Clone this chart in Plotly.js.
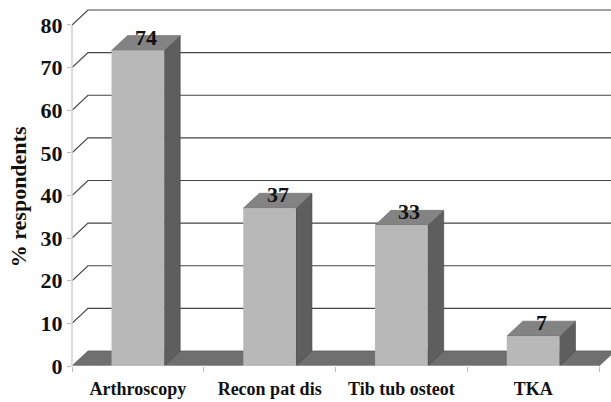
<!DOCTYPE html>
<html>
<head>
<meta charset="utf-8">
<script src="https://cdn.plot.ly/plotly-3.0.1.min.js"></script>
<style>html,body{margin:0;padding:0;background:#fff;}#chart{width:611px;height:402px;}</style>
</head>
<body>
<div id="chart"></div>
<script>
const categories = ['Arthroscopy', 'Recon pat dis', 'Tib tub osteot', 'TKA'];
const values = [74, 37, 33, 7];
const yTicks = [0, 10, 20, 30, 40, 50, 60, 70, 80];
const yTitle = '% respondents';

// 3-D depth offset, in axis units
const DX = 0.1214, DY = 3.52, BW = 0.4;
const XMIN = -0.5, XMAX = 3.591, YMAX = 84.69;
const xs = categories.map((c, i) => i);
const boundaries = [-0.5, 0.5, 1.5, 2.5, 3.5];

const shapes = [];
// back wall gridlines + diagonals
yTicks.forEach(v => {
  if (v === 0) return;
  shapes.push({type: 'path', xref: 'x', yref: 'y', layer: 'below',
    path: `M ${XMIN},${v} L ${XMIN + DX},${v + DY} L ${3.5 + DX},${v + DY}`,
    line: {color: '#444', width: 1.2}});
});
// floor
shapes.push({type: 'path', xref: 'x', yref: 'y', layer: 'below',
  path: `M ${XMIN},0 L 3.5,0 L ${3.5 + DX},${DY} L ${XMIN + DX},${DY} Z`,
  fillcolor: '#6f6f6f', line: {color: '#5a5a5a', width: 0.8}});
// bar side and top faces
xs.forEach((x, i) => {
  const v = values[i], l = x - BW / 2, r = x + BW / 2;
  shapes.push({type: 'path', xref: 'x', yref: 'y', layer: 'below',
    path: `M ${r},0 L ${r + DX},${DY} L ${r + DX},${v + DY} L ${r},${v} Z`,
    fillcolor: '#5e5e5e', line: {color: '#4a4a4a', width: 0.6}});
  shapes.push({type: 'path', xref: 'x', yref: 'y', layer: 'below',
    path: `M ${l},${v} L ${r},${v} L ${r + DX},${v + DY} L ${l + DX},${v + DY} Z`,
    fillcolor: '#838383', line: {color: '#6a6a6a', width: 0.6}});
});
// front axis lines
shapes.push({type: 'line', xref: 'x', yref: 'y', layer: 'above', x0: -0.5, x1: 3.5, y0: 0, y1: 0,
  line: {color: '#c4c4c4', width: 1}});
shapes.push({type: 'line', xref: 'paper', yref: 'y', layer: 'above', x0: 0, x1: 0, y0: 0, y1: 80,
  line: {color: '#cfcfcf', width: 1.5}});

const annotations = values.map((v, i) => ({
  x: xs[i] + DX / 2, y: v + DY * 0.9, xref: 'x', yref: 'y', text: String(v),
  showarrow: false, xanchor: 'center', yanchor: 'middle',
  font: {family: 'Liberation Serif', size: 22, weight: 'bold', color: '#111'}
}));
annotations.push({
  x: -0.1, y: 39.6, xref: 'paper', yref: 'y', text: yTitle, textangle: -90,
  showarrow: false, xanchor: 'center', yanchor: 'middle',
  font: {family: 'Liberation Serif', size: 22, weight: 'bold', color: '#111'}
});

const trace = {
  type: 'bar', x: xs, y: values, width: BW,
  marker: {color: '#b8b8b8', line: {width: 0}},
  hoverinfo: 'skip'
};

const layout = {
  width: 611, height: 402,
  margin: {l: 72, r: 0, t: 5, b: 36},
  paper_bgcolor: '#fff', plot_bgcolor: '#fff',
  showlegend: false,
  xaxis: {
    range: [XMIN, XMAX], tickmode: 'array', tickvals: xs, ticktext: categories,
    ticks: '', showgrid: false, zeroline: false, showline: false,
    ticklabelstandoff: 10,
    tickfont: {family: 'Liberation Serif', size: 18, weight: 'bold', color: '#111'},
    minor: {tickmode: 'array', tickvals: boundaries, ticks: 'outside', ticklen: 5, tickcolor: '#bbb', showgrid: false}
  },
  yaxis: {
    range: [0, YMAX], tickmode: 'array', tickvals: yTicks,
    ticks: 'outside', ticklen: 4, tickcolor: '#bbb',
    showgrid: false, zeroline: false, showline: false,
    tickfont: {family: 'Liberation Serif', size: 22, weight: 'bold', color: '#111'}
  },
  shapes: shapes,
  annotations: annotations
};

Plotly.newPlot('chart', [trace], layout, {displayModeBar: false, staticPlot: true});
</script>
</body>
</html>
